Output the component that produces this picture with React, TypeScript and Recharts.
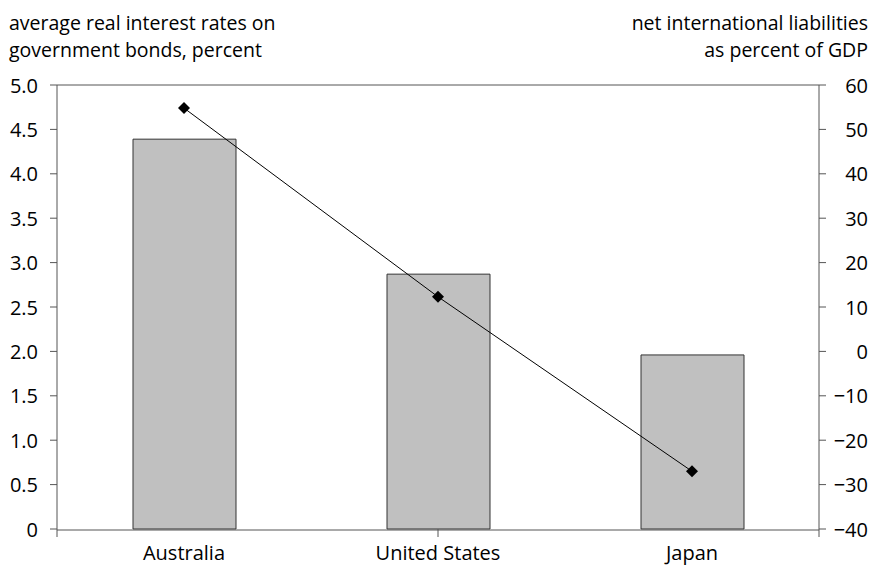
import { ComposedChart, Bar, Line, XAxis, YAxis, ReferenceLine } from 'recharts';

const countries = ['Australia', 'United States', 'Japan'];
const interestRates = [4.39, 2.87, 1.96];
const netLiabilities = [54.8, 12.3, -27.0];
const leftTicks = [0, 0.5, 1, 1.5, 2, 2.5, 3, 3.5, 4, 4.5, 5];
const rightTicks = [-40, -30, -20, -10, 0, 10, 20, 30, 40, 50, 60];
const boundaryTicks = [0, 1, 2, 3];

const data = countries.map((name, i) => ({
  name,
  rate: interestRates[i],
  liab: netLiabilities[i],
}));

const FONT = '"Open Sans", sans-serif';
const FS = 20;
const AXIS = '#555';

const Diamond = (props: any) => {
  const { cx, cy } = props;
  if (cx == null || cy == null) return null;
  const r = 6;
  return (
    <polygon
      points={`${cx},${cy - r} ${cx + r},${cy} ${cx},${cy + r} ${cx - r},${cy}`}
      fill="#000"
    />
  );
};

const LeftTick = ({ x, y, payload }: any) => (
  <text x={x - 10} y={y} dy={7.5} textAnchor="end" fontSize={FS} fontFamily={FONT} fill="#000">
    {payload.value === 0 ? '0' : payload.value.toFixed(1)}
  </text>
);

const RightTick = ({ y, payload }: any) => (
  <text x={868} y={y} dy={7.5} textAnchor="end" fontSize={FS} fontFamily={FONT} fill="#000">
    {payload.value < 0 ? '\u2212' + Math.abs(payload.value) : payload.value}
  </text>
);

const CatTick = ({ x, y, payload }: any) => (
  <text x={x} y={y} dy={22} textAnchor="middle" fontSize={FS} fontFamily={FONT} fill="#000">
    {payload.value}
  </text>
);

// tick marks at the category boundaries, no labels
const EdgeTick = () => <g />;

const header = {
  position: 'absolute' as const,
  top: 9,
  fontFamily: FONT,
  fontSize: 19.5,
  lineHeight: '27px',
  color: '#000',
  whiteSpace: 'nowrap' as const,
};

export default function App() {
  return (
    <div style={{ position: 'absolute', top: 0, left: 0, width: 876, height: 565, background: '#fff' }}>
      <div style={{ ...header, left: 9 }}>
        <div>average real interest rates on</div>
        <div>government bonds, percent</div>
      </div>
      <div style={{ ...header, right: 8, textAlign: 'right' }}>
        <div>net international liabilities</div>
        <div>as percent of GDP</div>
      </div>
      <ComposedChart
        width={876}
        height={565}
        data={data}
        margin={{ top: 85, right: 0, bottom: 0, left: 0 }}
      >
        <XAxis
          xAxisId={0}
          type="number"
          domain={[0, 3]}
          ticks={boundaryTicks}
          allowDataOverflow
          height={1}
          axisLine={false}
          tickLine={{ stroke: AXIS }}
          tickSize={8}
          tick={<EdgeTick />}
          interval={0}
        />
        <XAxis
          dataKey="name"
          xAxisId={1}
          height={35}
          axisLine={{ stroke: AXIS }}
          tickLine={false}
          tick={<CatTick />}
          interval={0}
        />
        <YAxis
          yAxisId="left"
          domain={[0, 5]}
          ticks={leftTicks}
          width={57}
          axisLine={{ stroke: AXIS }}
          tickLine={{ stroke: AXIS }}
          tickSize={7}
          tick={<LeftTick />}
          interval={0}
        />
        <YAxis
          yAxisId="right"
          orientation="right"
          domain={[-40, 60]}
          ticks={rightTicks}
          width={57}
          axisLine={{ stroke: AXIS }}
          tickLine={{ stroke: AXIS }}
          tickSize={7}
          tick={<RightTick />}
          interval={0}
        />
        <ReferenceLine yAxisId="left" xAxisId={1} y={5} stroke={AXIS} />
        <Bar
          dataKey="rate"
          yAxisId="left"
          xAxisId={1}
          barSize={103}
          fill="#c0c0c0"
          stroke="#333"
          strokeWidth={1}
          isAnimationActive={false}
        />
        <Line
          dataKey="liab"
          yAxisId="right"
          xAxisId={1}
          type="linear"
          stroke="#000"
          strokeWidth={1}
          dot={<Diamond />}
          activeDot={false}
          isAnimationActive={false}
        />
      </ComposedChart>
    </div>
  );
}
